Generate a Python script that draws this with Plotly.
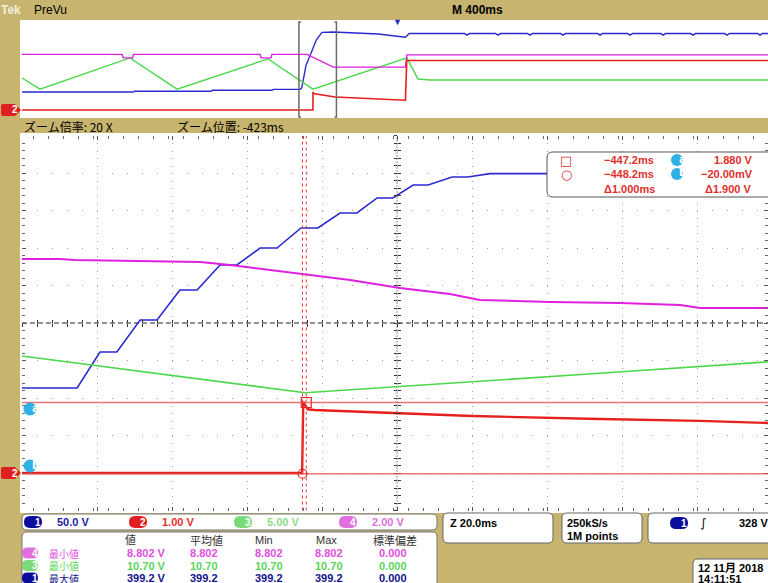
import plotly.graph_objects as go

W, H = 768, 583

# ---------------- channel settings ----------------
CH_SCALE = {1: 50.0, 2: 1.0, 3: 5.0, 4: 2.0}      # V/div
CH_POS = {1: -4.0, 2: -4.0, 3: -4.0, 4: -4.0}      # ground position (div)
CH_COLOR = {1: '#2a2ad2', 2: '#e6201c', 3: '#4cd84c', 4: '#e020e0'}
scale_labels = ['50.0 V', '1.00 V', '5.00 V', '2.00 V']

# ---------------- zoomed (main) window data: time ms, volts ----------------
blue_t = [-523.0, -508.3, -502.2, -497.7, -491.5, -487.0, -480.9, -476.3, -470.2, -465.7,
          -459.5, -455.0, -448.6, -444.1, -438.2, -433.7, -428.3, -424.1, -418.7, -414.7,
          -408.3, -404.1, -398.2, -323.0]
blue_v = [113.3, 113.3, 161.3, 161.3, 204.0, 204.0, 244.0, 244.0, 277.3, 277.3,
          300.0, 300.0, 326.7, 326.7, 346.7, 346.7, 366.7, 366.7, 384.0, 384.0,
          394.7, 394.7, 399.2, 399.2]

red_t = [-523.0, -448.3, -448.0, -446.8, -445.0, -422.0, -403.0, -368.9, -342.2, -323.0]
red_v = [0.0, 0.0, 1.90, 1.70, 1.68, 1.60, 1.52, 1.44, 1.39, 1.33]

green_t = [-523.0, -447.5, -368.9, -323.0]
green_v = [15.6, 10.7, 13.3, 14.85]

mag_t = [-523.0, -512.9, -508.9, -475.5, -467.5, -448.9, -435.5, -422.2, -408.9, -400.9,
         -382.2, -363.5, -347.5, -342.2, -323.0]
mag_v = [11.41, 11.41, 11.36, 11.25, 11.09, 10.61, 10.29, 9.87, 9.55, 9.23,
         9.12, 9.07, 8.96, 8.80, 8.80]

# ---------------- full-record preview data ----------------
pv_blue_t = [-2000, -1408, -1400, -992, -985, -667, -660, -517, -508, -485, -455, -430, -400,
             -340, -100, -10, 45, 65, 360, 373, 386, 526, 539, 552, 696, 709, 722, 872, 885,
             898, 1070, 1083, 1096, 1230, 1243, 1256, 1406, 1419, 1432, 1566, 1579, 1592,
             1747, 1760, 1773, 1923, 1936, 1949, 2000]
pv_blue_v = [92, 92, 96, 96, 101, 101, 106, 106, 113, 230, 300, 360, 398,
             400, 390, 378, 373, 392, 392, 384, 392, 392, 384, 392, 392, 384, 392, 392, 384,
             392, 392, 384, 392, 392, 384, 392, 392, 384, 392, 392, 384, 392,
             392, 384, 392, 392, 384, 392, 392]

pv_red_t = [-2000, -448.3, -448.0, -446.0, -330, 45, 52, 2000]
pv_red_v = [0.0, 0.0, 1.88, 1.70, 1.33, 1.0, 5.08, 5.08]

pv_green_t = [-2000, -1904, -1424, -1173, -688, -448, 53, 112, 176, 2000]
pv_green_v = [16.4, 10.7, 26.7, 10.7, 26.2, 10.7, 26.7, 15.9, 15.4, 15.4]

pv_mag_t = [-2000, -1467, -1460, -1410, -1405, -731, -724, -672, -667, -480, -340, 45, 53, 2000]
pv_mag_v = [11.4, 11.4, 10.7, 10.7, 11.4, 11.4, 10.7, 10.7, 11.4, 11.4, 8.8, 8.8, 11.3, 11.3]

# ---------------- cursors / settings ----------------
zoom_center = -423.0
ms_per_div = 20.0
record_ms_per_div = 400.0
cur1_t, cur2_t = -447.2, -448.2
cur_a, cur_b = 1.880, -0.020
cursor_rows = [('-447.2ms', '1.880 V'), ('-448.2ms', '-20.00mV')]
cursor_delta = ('Δ1.000ms', 'Δ1.900 V')

meas_header = ['値', '平均値', 'Min', 'Max', '標準偏差']
meas_ch = [4, 3, 1]
meas_names = ['最小値', '最小値', '最大値']
meas_vals = [['8.802 V', '8.802', '8.802', '8.802', '0.000'],
             ['10.70 V', '10.70', '10.70', '10.70', '0.000'],
             ['399.2 V', '399.2', '399.2', '399.2', '0.000']]
meas_color = {4: '#e050e0', 3: '#5cd65c', 1: '#12128c'}
scale_text_color = {1: '#1c1ca0', 2: '#e03030', 3: '#8edc8e', 4: '#e070e0'}
badge_color = {1: '#0c0c9c', 2: '#e02020', 3: '#7ada7a', 4: '#e070e0'}


def to_div(vals, ch):
    return [v / CH_SCALE[ch] + CH_POS[ch] for v in vals]


KHAKI = '#c7b46f'
FONT = 'Liberation Sans, Noto Sans CJK JP, sans-serif'
JFONT = 'Noto Sans CJK JP, sans-serif'

fig = go.Figure()

# preview traces
for t, v, ch, w in [(pv_blue_t, pv_blue_v, 1, 1.4), (pv_green_t, pv_green_v, 3, 1.4),
                    (pv_mag_t, pv_mag_v, 4, 1.4), (pv_red_t, pv_red_v, 2, 1.6)]:
    fig.add_trace(go.Scatter(x=t, y=to_div(v, ch), mode='lines', xaxis='x', yaxis='y',
                             line=dict(color=CH_COLOR[ch], width=w), showlegend=False,
                             hoverinfo='skip'))

# main traces
for t, v, ch, w in [(blue_t, blue_v, 1, 1.6), (green_t, green_v, 3, 1.6),
                    (mag_t, mag_v, 4, 2.0), (red_t, red_v, 2, 2.4)]:
    fig.add_trace(go.Scatter(x=t, y=to_div(v, ch), mode='lines', xaxis='x2', yaxis='y2',
                             line=dict(color=CH_COLOR[ch], width=w), showlegend=False,
                             hoverinfo='skip'))

# cursor markers
fig.add_trace(go.Scatter(x=[cur1_t], y=to_div([cur_a], 2), mode='markers', xaxis='x2', yaxis='y2',
                         marker=dict(symbol='square-open', size=10, color='#e6201c', line=dict(width=1.2)),
                         showlegend=False, hoverinfo='skip'))
fig.add_trace(go.Scatter(x=[cur2_t], y=to_div([cur_b], 2), mode='markers', xaxis='x2', yaxis='y2',
                         marker=dict(symbol='circle-open', size=9, color='#e6201c', line=dict(width=1.2)),
                         showlegend=False, hoverinfo='skip'))
# empty traces for crosshair tick axes
for xa, ya in [('x3', 'y2'), ('x4', 'y2'), ('x2', 'y3'), ('x2', 'y4')]:
    fig.add_trace(go.Scatter(x=[], y=[], xaxis=xa, yaxis=ya, showlegend=False, hoverinfo='skip'))

x_left = 22 / W
main_lo = zoom_center - 5 * ms_per_div
main_hi = zoom_center + 5 * ms_per_div - 4 / 3.75
pv_lo = -5 * record_ms_per_div
pv_hi = 5 * record_ms_per_div - 4 * (record_ms_per_div / 75)

noax = dict(showgrid=False, zeroline=False, showticklabels=False, showline=False, ticks='')
main_y_dom = [1 - 510.5 / H, 1 - 135.5 / H]
fig.update_layout(
    width=W, height=H, margin=dict(l=0, r=0, t=0, b=0),
    paper_bgcolor=KHAKI, plot_bgcolor='white',
    xaxis=dict(domain=[x_left, 1], range=[pv_lo, pv_hi], anchor='y', **noax),
    yaxis=dict(domain=[1 - 118 / H, 1 - 20 / H], range=[-4.82, 5.23], anchor='x', **noax),
    xaxis2=dict(domain=[x_left, 1], range=[main_lo, main_hi], anchor='y2',
                showgrid=True, gridcolor='#a0a0a0', griddash='1px,6.5px', gridwidth=1,
                tick0=main_lo, dtick=ms_per_div, zeroline=False, showticklabels=False,
                showline=False, ticks='inside', ticklen=4, tickcolor='#555', mirror='ticks',
                minor=dict(dtick=ms_per_div / 5, ticks='inside', ticklen=3, tickcolor='#666')),
    yaxis2=dict(domain=main_y_dom, range=[-5, 5], anchor='x2',
                showgrid=True, gridcolor='#a0a0a0', griddash='1px,14px', gridwidth=1,
                tick0=0, dtick=1, zeroline=False, showticklabels=False,
                showline=False, ticks='inside', ticklen=4, tickcolor='#555', mirror='ticks',
                minor=dict(dtick=0.2, ticks='inside', ticklen=3, tickcolor='#666')),
    xaxis3=dict(overlaying='x2', anchor='free', position=1 - 323 / H, range=[main_lo, main_hi],
                tick0=main_lo, dtick=ms_per_div / 5, ticks='outside', ticklen=3, tickcolor='#333',
                showgrid=False, zeroline=False, showticklabels=False, showline=False),
    xaxis4=dict(overlaying='x2', anchor='free', position=1 - 323 / H, range=[main_lo, main_hi],
                tick0=main_lo, dtick=ms_per_div / 5, ticks='inside', ticklen=3, tickcolor='#333',
                showgrid=False, zeroline=False, showticklabels=False, showline=False),
    yaxis3=dict(overlaying='y2', anchor='free', position=397 / W, range=[-5, 5],
                tick0=0, dtick=0.2, ticks='outside', ticklen=3, tickcolor='#333',
                showgrid=False, zeroline=False, showticklabels=False, showline=False),
    yaxis4=dict(overlaying='y2', anchor='free', position=397 / W, range=[-5, 5],
                tick0=0, dtick=0.2, ticks='inside', ticklen=3, tickcolor='#333',
                showgrid=False, zeroline=False, showticklabels=False, showline=False),
)

shapes = []
ann = []


def P(x, y):
    return f"{x / W:.5f},{1 - y / H:.5f}"


def rr(x0, y0, x1, y1, r=4, fill='white', line='#666', lw=1, layer='above'):
    path = (f"M{P(x0 + r, y0)} L{P(x1 - r, y0)} Q{P(x1, y0)} {P(x1, y0 + r)} "
            f"L{P(x1, y1 - r)} Q{P(x1, y1)} {P(x1 - r, y1)} L{P(x0 + r, y1)} "
            f"Q{P(x0, y1)} {P(x0, y1 - r)} L{P(x0, y0 + r)} Q{P(x0, y0)} {P(x0 + r, y0)} Z")
    shapes.append(dict(type='path', xref='paper', yref='paper', path=path, fillcolor=fill,
                       line=dict(color=line, width=lw), layer=layer))


def txt(x, y, s, color='black', size=11, anchor='left', bold=True, family=FONT):
    if bold:
        s = f"<b>{s}</b>"
    ann.append(dict(x=x / W, y=1 - y / H, xref='paper', yref='paper', text=s, showarrow=False,
                    xanchor=anchor, yanchor='middle', font=dict(color=color, size=size, family=family)))


def badge(cx, cy, label, fill, w=18, h=12):
    rr(cx - w / 2, cy - h / 2, cx + w / 2, cy + h / 2, r=h / 2, fill=fill, line=fill, lw=0)
    txt(cx, cy, label, color='white', size=10)


def circ(cx, cy, label, fill='#30b0e4', r=6.5):
    shapes.append(dict(type='circle', xref='paper', yref='paper', x0=(cx - r) / W, x1=(cx + r) / W,
                       y0=1 - (cy + r) / H, y1=1 - (cy - r) / H, fillcolor=fill, line=dict(width=0)))
    txt(cx, cy - 1, label, color='white', size=11, family='DejaVu Sans')


def marker2(cy):
    path = (f"M{P(3, cy - 6)} L{P(15, cy - 6)} L{P(21, cy)} L{P(15, cy + 6)} L{P(3, cy + 6)} "
            f"Q{P(1, cy + 6)} {P(1, cy + 4)} L{P(1, cy - 4)} Q{P(1, cy - 6)} {P(3, cy - 6)} Z")
    shapes.append(dict(type='path', xref='paper', yref='paper', path=path, fillcolor=badge_color[2],
                       line=dict(width=0)))
    txt(10, cy, '2', color='white', size=10)


# white panels (below)
shapes.append(dict(type='rect', xref='paper', yref='paper', x0=20 / W, x1=1, y0=1 - 118 / H, y1=1 - 20 / H,
                   fillcolor='white', line=dict(width=0), layer='below'))
shapes.append(dict(type='rect', xref='paper', yref='paper', x0=20 / W, x1=1, y0=1 - 513 / H, y1=1 - 133 / H,
                   fillcolor='white', line=dict(width=0), layer='below'))

# crosshair
shapes.append(dict(type='line', xref='x2', yref='y2', x0=main_lo, x1=main_hi, y0=0, y1=0,
                   line=dict(color='#222', width=1, dash='5px,3px'), layer='below'))
shapes.append(dict(type='line', xref='x2', yref='y2', x0=zoom_center, x1=zoom_center, y0=-5, y1=5,
                   line=dict(color='#333', width=1, dash='1px,2px'), layer='below'))

# cursors
for lvl in [cur_a, cur_b]:
    yv = to_div([lvl], 2)[0]
    shapes.append(dict(type='line', xref='x2', yref='y2', x0=main_lo, x1=main_hi, y0=yv, y1=yv,
                       line=dict(color='rgba(230,70,70,0.75)', width=1.5)))
for tc in [cur1_t, cur2_t]:
    shapes.append(dict(type='line', xref='x2', yref='y2', x0=tc, x1=tc, y0=-5, y1=5,
                       line=dict(color='#e83a3a', width=1, dash='3px,3px')))

# zoom bracket in preview
b0, b1 = main_lo, zoom_center + 5 * ms_per_div
d = 2 * record_ms_per_div / 75
for xa, xb in [(b0, b0 + d), (b1, b1 - d)]:
    shapes.append(dict(type='path', xref='x', yref='y',
                       path=f"M{xb},5.03 L{xa},5.03 L{xa},-4.72 L{xb},-4.72",
                       line=dict(color='#6a6a6a', width=1.5)))

# trigger marker
ann.append(dict(x=0, y=1 - 22 / H, xref='x', yref='paper', text='▼', showarrow=False,
                xanchor='center', yanchor='middle', font=dict(color='#2a2ad2', size=9)))

# top bar text
txt(-1, 10, 'Tek', color='#f4eedc', size=12)
txt(32, 10, 'PreVu', size=12, bold=False)
txt(450, 10, 'M 400ms', size=12)
txt(22, 126, 'ズーム倍率: 20 X', size=12, bold=False, family=JFONT)
txt(175, 126, 'ズーム位置: -423ms', size=12, bold=False, family=JFONT)

# ground markers
marker2(110)
marker2(473)
circ(30, 409, 'a')
circ(30, 466, 'b')

# cursor readout box
rr(547, 152, 775, 197, r=6, line='#555')
txt(566, 160, '□', color='#e0302c', size=13, anchor='center', bold=False, family='DejaVu Sans')
txt(566, 174, '○', color='#e0302c', size=13, anchor='center', bold=False, family='DejaVu Sans')
for i, (tv, vv) in enumerate(cursor_rows):
    y = 160 + 14 * i
    txt(602, y, tv.replace('-', '−'), color='#e0302c', size=11)
    circ(677, y, 'ab'[i], r=6)
    txt(755, y, vv.replace('-', '−'), color='#e0302c', size=11, anchor='right')
txt(602, 189, cursor_delta[0], color='#e0302c', size=11)
txt(703, 189, cursor_delta[1], color='#e0302c', size=11)

# channel scale bar
rr(22, 514, 437, 530, r=5, line='#777')
for i, ch in enumerate([1, 2, 3, 4]):
    cx = [33, 138, 243, 348][i]
    badge(cx, 522, str(ch), badge_color[ch])
    txt(cx + 22, 522, scale_labels[i], color=scale_text_color[ch], size=11)

# measurement table
rr(22, 532, 437, 600, r=5, line='#777')
for s, cx in zip(meas_header, [130, 206, 264, 326, 395]):
    txt(cx, 540, s, color='#333', size=11, anchor='center', bold=False, family=FONT)
for r, ch in enumerate(meas_ch):
    y = 553 + 12.5 * r
    col = meas_color[ch]
    badge(30, y, str(ch), badge_color[ch], w=16, h=11)
    txt(47, y, meas_names[r], color=col, size=10, bold=False, family=JFONT)
    for v, x in zip(meas_vals[r], [125, 188, 253, 313, 377]):
        txt(x, y, v, color=col, size=11)

# right-bottom status boxes
rr(443, 513, 553, 543, r=5, line='#666')
txt(448, 523, 'Z 20.0ms', size=11)
rr(562, 513, 642, 543, r=5, line='#666')
txt(565, 523, '250kS/s', size=11)
txt(565, 536, '1M points', size=11)
rr(648, 513, 790, 543, r=5, line='#666')
badge(679, 523, '1', badge_color[1])
txt(703, 523, '∫', size=12, anchor='center', bold=False, family='DejaVu Sans')
txt(737, 523, '328 V', size=11)
rr(693, 559, 790, 600, r=5, line='#666')
txt(696, 568, '12 11月 2018', size=11)
txt(696, 579, '14:11:51', size=11)

fig.update_layout(shapes=shapes, annotations=ann)
fig.write_html('out.html', config={'displayModeBar': False},
               post_script="document.body.style.margin='0';document.body.style.overflow='hidden';")
